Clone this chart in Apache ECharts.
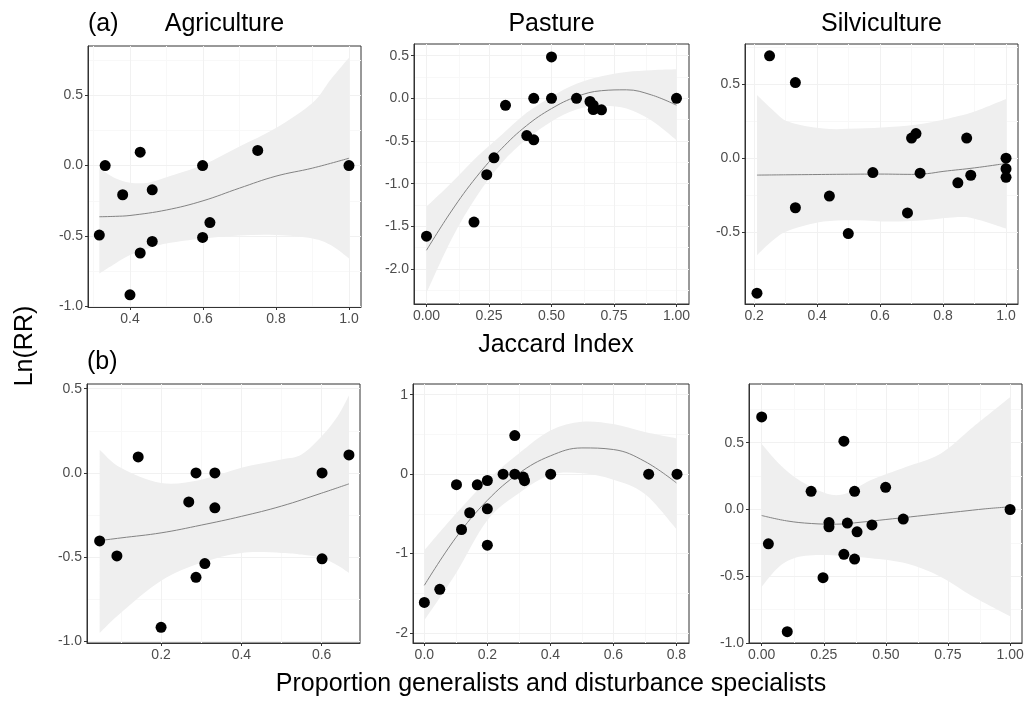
<!DOCTYPE html>
<html>
<head>
<meta charset="utf-8">
<script src="https://cdn.jsdelivr.net/npm/echarts@6/dist/echarts.min.js"></script>
<style>
  html, body { margin: 0; padding: 0; background: #ffffff; }
  #chart { width: 1029px; height: 702px; }
</style>
</head>
<body>
<div id="chart"></div>
<script>
// ---------- (a) Ln(RR) against Jaccard index ----------
// Agriculture
const agJacX = [0.316, 0.332, 0.380, 0.400, 0.428, 0.428, 0.461, 0.461, 0.599, 0.599, 0.619, 0.750, 1.000];
const agJacY = [-0.493, 0.000, -0.207, -0.917, 0.095, -0.620, -0.172, -0.538, 0.000, -0.510, -0.404, 0.107, 0.000];
const agJacFitX = [0.316, 0.36, 0.40, 0.50, 0.60, 0.70, 0.80, 0.90, 1.00];
const agJacFitY = [-0.363, -0.360, -0.354, -0.315, -0.250, -0.160, -0.075, -0.018, 0.052];
const agJacBandX = [0.316, 0.36, 0.40, 0.45, 0.50, 0.60, 0.70, 0.80, 0.90, 0.95, 1.00];
const agJacUpper = [-0.019, -0.090, -0.121, -0.121, -0.083, 0.005, 0.135, 0.266, 0.444, 0.610, 0.764];
const agJacLower = [-0.766, -0.694, -0.635, -0.588, -0.552, -0.517, -0.496, -0.493, -0.517, -0.564, -0.659];

// Pasture
const pasJacX = [0.000, 0.190, 0.241, 0.270, 0.316, 0.401, 0.429, 0.429, 0.500, 0.500, 0.600, 0.654, 0.667, 0.667, 0.700, 1.000];
const pasJacY = [-1.615, -1.450, -0.895, -0.697, -0.082, -0.436, -0.486, 0.000, 0.000, 0.486, 0.000, -0.037, -0.080, -0.132, -0.135, 0.000];
const pasJacFitX = [0.0, 0.1, 0.2, 0.3, 0.4, 0.5, 0.6, 0.7, 0.8, 0.9, 1.0];
const pasJacFitY = [-1.78, -1.32, -0.92, -0.59, -0.32, -0.12, 0.02, 0.09, 0.10, 0.04, -0.08];
const pasJacBandX = [0.0, 0.1, 0.2, 0.3, 0.4, 0.5, 0.6, 0.7, 0.8, 0.9, 1.0];
const pasJacUpper = [-1.27, -0.99, -0.69, -0.43, -0.17, 0.02, 0.17, 0.26, 0.31, 0.33, 0.34];
const pasJacLower = [-2.28, -1.65, -1.15, -0.76, -0.48, -0.27, -0.13, -0.09, -0.12, -0.26, -0.49];

// Silviculture
const silJacX = [0.209, 0.249, 0.331, 0.331, 0.439, 0.499, 0.577, 0.687, 0.700, 0.714, 0.727, 0.847, 0.875, 0.888, 1.000, 1.000, 1.000];
const silJacY = [-0.915, 0.693, 0.512, -0.336, -0.257, -0.511, -0.098, -0.371, 0.136, 0.166, -0.102, -0.167, 0.136, -0.116, 0.000, -0.072, -0.130];
const silJacFitX = [0.209, 0.30, 0.40, 0.50, 0.60, 0.70, 0.75, 0.80, 0.90, 1.00];
const silJacFitY = [-0.115, -0.113, -0.111, -0.109, -0.108, -0.110, -0.105, -0.090, -0.066, -0.036];
const silJacBandX = [0.209, 0.26, 0.31, 0.42, 0.53, 0.63, 0.74, 0.84, 0.90, 1.00];
const silJacUpper = [0.427, 0.325, 0.246, 0.200, 0.200, 0.210, 0.235, 0.280, 0.315, 0.400];
const silJacLower = [-0.657, -0.556, -0.490, -0.430, -0.420, -0.430, -0.420, -0.400, -0.410, -0.476];

// ---------- (b) Ln(RR) against proportion of generalists and disturbance specialists ----------
// Agriculture
const agPropX = [0.047, 0.090, 0.143, 0.200, 0.269, 0.287, 0.287, 0.309, 0.334, 0.334, 0.601, 0.601, 0.668];
const agPropY = [-0.404, -0.493, 0.095, -0.917, -0.172, 0.000, -0.620, -0.538, 0.000, -0.207, 0.000, -0.510, 0.107];
const agPropFitX = [0.047, 0.10, 0.20, 0.30, 0.40, 0.50, 0.60, 0.668];
const agPropFitY = [-0.402, -0.386, -0.356, -0.310, -0.258, -0.197, -0.120, -0.065];
const agPropBandX = [0.047, 0.10, 0.20, 0.30, 0.40, 0.50, 0.55, 0.60, 0.64, 0.668];
const agPropUpper = [0.138, 0.030, -0.060, -0.040, 0.030, 0.079, 0.109, 0.217, 0.336, 0.459];
const agPropLower = [-0.950, -0.830, -0.640, -0.534, -0.475, -0.475, -0.485, -0.505, -0.550, -0.594];

// Pasture
const pasPropX = [0.000, 0.049, 0.102, 0.118, 0.144, 0.168, 0.200, 0.200, 0.200, 0.250, 0.287, 0.287, 0.314, 0.318, 0.401, 0.712, 0.802];
const pasPropY = [-1.615, -1.450, -0.132, -0.697, -0.486, -0.135, -0.080, -0.436, -0.895, 0.000, 0.000, 0.486, -0.037, -0.082, 0.000, 0.000, 0.000];
const pasPropFitX = [0.0, 0.1, 0.2, 0.3, 0.4, 0.5, 0.6, 0.7, 0.8];
const pasPropFitY = [-1.40, -0.80, -0.33, 0.01, 0.23, 0.33, 0.31, 0.16, -0.11];
const pasPropBandX = [0.0, 0.1, 0.2, 0.3, 0.4, 0.5, 0.6, 0.7, 0.8];
const pasPropUpper = [-0.96, -0.50, -0.08, 0.26, 0.55, 0.66, 0.63, 0.53, 0.45];
const pasPropLower = [-1.84, -1.25, -0.58, -0.24, -0.01, 0.01, -0.07, -0.25, -0.69];

// Silviculture
const silPropX = [0.000, 0.027, 0.103, 0.199, 0.247, 0.271, 0.271, 0.331, 0.331, 0.345, 0.374, 0.374, 0.384, 0.444, 0.499, 0.570, 1.000];
const silPropY = [0.693, -0.257, -0.915, 0.136, -0.511, -0.098, -0.130, 0.512, -0.336, -0.102, 0.136, -0.371, -0.167, -0.116, 0.166, -0.072, 0.000];
const silPropFitX = [0.0, 0.1, 0.2, 0.3, 0.4, 0.5, 0.6, 0.7, 0.8, 0.9, 1.0];
const silPropFitY = [-0.045, -0.085, -0.105, -0.110, -0.095, -0.075, -0.055, -0.035, -0.015, 0.005, 0.020];
const silPropBandX = [0.0, 0.07, 0.15, 0.26, 0.34, 0.44, 0.58, 0.72, 0.85, 1.0];
const silPropUpper = [0.490, 0.343, 0.220, 0.120, 0.120, 0.220, 0.318, 0.418, 0.616, 0.840];
const silPropLower = [-0.578, -0.428, -0.354, -0.340, -0.350, -0.365, -0.403, -0.503, -0.652, -0.800];

// ---------- tick values (major) and minor grid positions ----------
const ticksA1x = [0.4, 0.6, 0.8, 1.0], ticksA1y = [-1.0, -0.5, 0.0, 0.5];
const minorA1x = [0.3, 0.5, 0.7, 0.9], minorA1y = [-0.75, -0.25, 0.25, 0.75];
const ticksA2x = [0.0, 0.25, 0.5, 0.75, 1.0], ticksA2y = [-2.0, -1.5, -1.0, -0.5, 0.0, 0.5];
const minorA2x = [0.125, 0.375, 0.625, 0.875], minorA2y = [-2.25, -1.75, -1.25, -0.75, -0.25, 0.25];
const ticksA3x = [0.2, 0.4, 0.6, 0.8, 1.0], ticksA3y = [-0.5, 0.0, 0.5];
const minorA3x = [0.3, 0.5, 0.7, 0.9], minorA3y = [-0.75, -0.25, 0.25, 0.75];
const ticksB1x = [0.2, 0.4, 0.6], ticksB1y = [-1.0, -0.5, 0.0, 0.5];
const minorB1x = [0.1, 0.3, 0.5], minorB1y = [-0.75, -0.25, 0.25];
const ticksB2x = [0.0, 0.2, 0.4, 0.6, 0.8], ticksB2y = [-2, -1, 0, 1];
const minorB2x = [0.1, 0.3, 0.5, 0.7], minorB2y = [-1.5, -0.5, 0.5];
const ticksB3x = [0.0, 0.25, 0.5, 0.75, 1.0], ticksB3y = [-1.0, -0.5, 0.0, 0.5];
const minorB3x = [0.125, 0.375, 0.625, 0.875], minorB3y = [-0.75, -0.25, 0.25, 0.75];

const FONT = '"Liberation Sans", Arial, Helvetica, sans-serif';
const zip = (xs, ys) => xs.map((x, k) => [x, ys[k]]);

const panels = [
  { box: { left: 88, top: 46, width: 273, height: 261 }, xr: [0.285, 1.033], yr: [-1.003, 0.848],
    tx: ticksA1x, ty: ticksA1y, mx: minorA1x, my: minorA1y, xd: 1, yd: 1,
    pts: zip(agJacX, agJacY), fit: zip(agJacFitX, agJacFitY), bx: agJacBandX, up: agJacUpper, lo: agJacLower },
  { box: { left: 414, top: 44, width: 275, height: 260 }, xr: [-0.05, 1.05], yr: [-2.41, 0.637],
    tx: ticksA2x, ty: ticksA2y, mx: minorA2x, my: minorA2y, xd: 2, yd: 1,
    pts: zip(pasJacX, pasJacY), fit: zip(pasJacFitX, pasJacFitY), bx: pasJacBandX, up: pasJacUpper, lo: pasJacLower },
  { box: { left: 745, top: 44, width: 273, height: 260 }, xr: [0.171, 1.038], yr: [-0.988, 0.773],
    tx: ticksA3x, ty: ticksA3y, mx: minorA3x, my: minorA3y, xd: 1, yd: 1,
    pts: zip(silJacX, silJacY), fit: zip(silJacFitX, silJacFitY), bx: silJacBandX, up: silJacUpper, lo: silJacLower },
  { box: { left: 87, top: 384, width: 273, height: 259 }, xr: [0.0155, 0.6955], yr: [-1.01, 0.528],
    tx: ticksB1x, ty: ticksB1y, mx: minorB1x, my: minorB1y, xd: 1, yd: 1,
    pts: zip(agPropX, agPropY), fit: zip(agPropFitX, agPropFitY), bx: agPropBandX, up: agPropUpper, lo: agPropLower },
  { box: { left: 413, top: 384, width: 276, height: 259 }, xr: [-0.036, 0.84], yr: [-2.126, 1.135],
    tx: ticksB2x, ty: ticksB2y, mx: minorB2x, my: minorB2y, xd: 1, yd: 0,
    pts: zip(pasPropX, pasPropY), fit: zip(pasPropFitX, pasPropFitY), bx: pasPropBandX, up: pasPropUpper, lo: pasPropLower },
  { box: { left: 749, top: 384, width: 273, height: 259 }, xr: [-0.051, 1.048], yr: [-1.0, 0.94],
    tx: ticksB3x, ty: ticksB3y, mx: minorB3x, my: minorB3y, xd: 2, yd: 1,
    pts: zip(silPropX, silPropY), fit: zip(silPropFitX, silPropFitY), bx: silPropBandX, up: silPropUpper, lo: silPropLower }
];

const grid = [], xAxis = [], yAxis = [], series = [];

function axisCfg(i, range, ticks, dec) {
  return {
    type: 'value', gridIndex: i, min: range[0], max: range[1],
    axisLine: { show: true, onZero: false, lineStyle: { color: '#333333', width: 1 } },
    axisTick: { show: true, inside: false, length: 3, customValues: ticks, lineStyle: { color: '#333333', width: 1 } },
    axisLabel: { customValues: ticks, formatter: v => Number(v).toFixed(dec), color: '#4d4d4d',
                 fontSize: 14, fontFamily: FONT, margin: 5, hideOverlap: false },
    splitLine: { show: false }
  };
}

// Catmull-Rom curve through pixel points, written as cubic Bezier path commands
function curveCmds(pts) {
  let d = '';
  for (let k = 0; k < pts.length - 1; k++) {
    const p0 = pts[Math.max(k - 1, 0)], p1 = pts[k], p2 = pts[k + 1], p3 = pts[Math.min(k + 2, pts.length - 1)];
    const c1 = [p1[0] + (p2[0] - p0[0]) / 6, p1[1] + (p2[1] - p0[1]) / 6];
    const c2 = [p2[0] - (p3[0] - p1[0]) / 6, p2[1] - (p3[1] - p1[1]) / 6];
    d += ' C' + c1[0] + ',' + c1[1] + ' ' + c2[0] + ',' + c2[1] + ' ' + p2[0] + ',' + p2[1];
  }
  return d;
}

// confidence band drawn as one filled shape between the upper and lower edges
function bandRenderer(p) {
  return function (params, api) {
    if (params.dataIndex !== 0) return null;
    const upPx = p.bx.map((x, k) => api.coord([x, p.up[k]]));
    const loPx = p.bx.map((x, k) => api.coord([x, p.lo[k]])).reverse();
    const d = 'M' + upPx[0][0] + ',' + upPx[0][1] + curveCmds(upPx) +
              ' L' + loPx[0][0] + ',' + loPx[0][1] + curveCmds(loPx) + ' Z';
    return { type: 'path', shape: { pathData: d }, style: { fill: '#efefef', stroke: null } };
  };
}

panels.forEach((p, i) => {
  grid.push(Object.assign({ show: true, borderColor: '#333333', borderWidth: 1, backgroundColor: 'transparent' }, p.box));
  xAxis.push(axisCfg(i, p.xr, p.tx, p.xd));
  yAxis.push(axisCfg(i, p.yr, p.ty, p.yd));

  const gridLines = []
    .concat(p.mx.map(v => ({ xAxis: v, lineStyle: { color: '#f8f8f8' } })))
    .concat(p.my.map(v => ({ yAxis: v, lineStyle: { color: '#f8f8f8' } })))
    .concat(p.tx.map(v => ({ xAxis: v, lineStyle: { color: '#f1f1f1' } })))
    .concat(p.ty.map(v => ({ yAxis: v, lineStyle: { color: '#f1f1f1' } })));

  // confidence band
  series.push({
    type: 'custom', xAxisIndex: i, yAxisIndex: i, silent: true, z: 1,
    data: [[p.bx[0], p.up[0]]], renderItem: bandRenderer(p)
  });
  // fitted smooth curve (also carries the light panel grid)
  series.push({
    type: 'line', xAxisIndex: i, yAxisIndex: i, data: p.fit, smooth: 0.4, symbol: 'none', silent: true, z: 2,
    lineStyle: { color: '#838383', width: 1 },
    markLine: { silent: true, symbol: 'none', z: 0, animation: false,
                label: { show: false }, emphasis: { disabled: true },
                lineStyle: { type: 'solid', width: 1 }, data: gridLines }
  });
  // observations
  series.push({
    type: 'scatter', xAxisIndex: i, yAxisIndex: i, data: p.pts, symbol: 'circle', symbolSize: 11, z: 3,
    itemStyle: { color: '#000000', opacity: 1 }
  });
});

function label(text, x, y, opts) {
  return Object.assign({
    type: 'text', x: x, y: y, silent: true,
    style: Object.assign({ text: text, fill: '#000000', font: '25px ' + FONT,
                           textAlign: 'center', textVerticalAlign: 'middle' }, (opts && opts.style) || {})
  }, opts && opts.rotation ? { rotation: opts.rotation } : {});
}

const graphic = [
  label('(a)', 88, 24, { style: { textAlign: 'left' } }),
  label('Agriculture', 224.5, 24),
  label('Pasture', 551.5, 24),
  label('Silviculture', 881.5, 24),
  label('Jaccard Index', 556, 345),
  label('(b)', 87, 362, { style: { textAlign: 'left' } }),
  label('Ln(RR)', 25, 346, { rotation: Math.PI / 2 }),
  label('Proportion generalists and disturbance specialists', 551, 684)
];

const chart = echarts.init(document.getElementById('chart'), null, { renderer: 'canvas' });
chart.setOption({
  animation: false,
  backgroundColor: '#ffffff',
  grid: grid, xAxis: xAxis, yAxis: yAxis, series: series, graphic: graphic
});
</script>
</body>
</html>
